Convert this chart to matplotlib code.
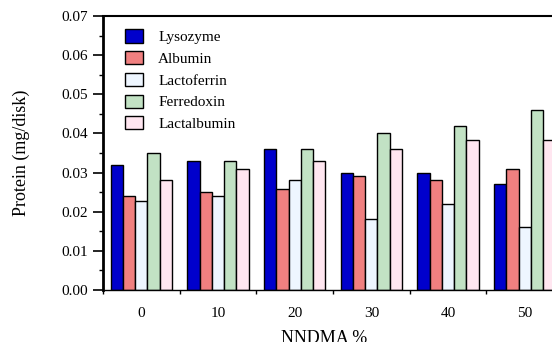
import numpy as np
import matplotlib
matplotlib.use("Agg")
import matplotlib.pyplot as plt
from matplotlib.ticker import MultipleLocator, FixedLocator

plt.rcParams['font.family'] = ['Liberation Serif', 'DejaVu Serif']

# NNDMA content groups
groups = ['0', '10', '20', '30', '40', '50']
proteins = ['Lysozyme', 'Albumin', 'Lactoferrin', 'Ferredoxin', 'Lactalbumin']
colors = ['#0000CC', '#F08080', '#EEF6FF', '#C2E2C4', '#FFE6F0']

lysozyme = [0.032, 0.033, 0.036, 0.030, 0.030, 0.027]
albumin = [0.024, 0.025, 0.0258, 0.029, 0.028, 0.031]
lactoferrin = [0.0228, 0.024, 0.028, 0.0182, 0.0219, 0.016]
ferredoxin = [0.035, 0.033, 0.036, 0.040, 0.0418, 0.046]
lactalbumin = [0.028, 0.031, 0.033, 0.036, 0.0382, 0.0382]
values = [lysozyme, albumin, lactoferrin, ferredoxin, lactalbumin]

fig = plt.figure(figsize=(5.52, 3.42), dpi=100)
# axes runs past the right edge of the figure (cropped like the original)
ax = fig.add_axes([103 / 552, 52 / 342, 460 / 552, 274 / 342])

x = np.arange(len(groups))
width = 0.16
for i, (name, vals) in enumerate(zip(proteins, values)):
    ax.bar(x + (i - 2) * width, vals, width, color=colors[i],
           edgecolor='black', linewidth=1.0, label=name)

ax.set_xlim(-0.5, 5.5)
ax.set_ylim(0, 0.07)

ax.yaxis.set_major_locator(MultipleLocator(0.01))
ax.yaxis.set_minor_locator(MultipleLocator(0.005))
ax.yaxis.set_major_formatter(matplotlib.ticker.FormatStrFormatter('%.2f'))
ax.tick_params(axis='y', which='major', direction='out', length=7, width=1.2, labelsize=11)
ax.tick_params(axis='y', which='minor', direction='out', length=3, width=1.0)

ax.set_xticks(x)
ax.set_xticklabels(groups)
ax.xaxis.set_minor_locator(FixedLocator(np.arange(-0.5, 6, 1)))
ax.tick_params(axis='x', which='major', length=0, labelsize=11, pad=12)
ax.tick_params(axis='x', which='minor', direction='out', length=3, width=1.0)

ax.spines['left'].set_linewidth(2.0)
ax.spines['top'].set_linewidth(1.5)
ax.spines['bottom'].set_linewidth(1.0)

ax.set_ylabel('Protein (mg/disk)', fontsize=13)
ax.yaxis.set_label_coords(-0.158, 0.5)
ax.set_xlabel('NNDMA %', fontsize=13)
# the original image cuts this label at the bottom edge
ax.xaxis.set_label_coords(0.48, -0.145)

ax.legend(loc='upper left', bbox_to_anchor=(0.025, 0.99), frameon=False,
          fontsize=11, handlelength=1.15, handleheight=0.95, handletextpad=1.0,
          labelspacing=0.45, borderaxespad=0.3)

fig.savefig('out.png', dpi=100)
